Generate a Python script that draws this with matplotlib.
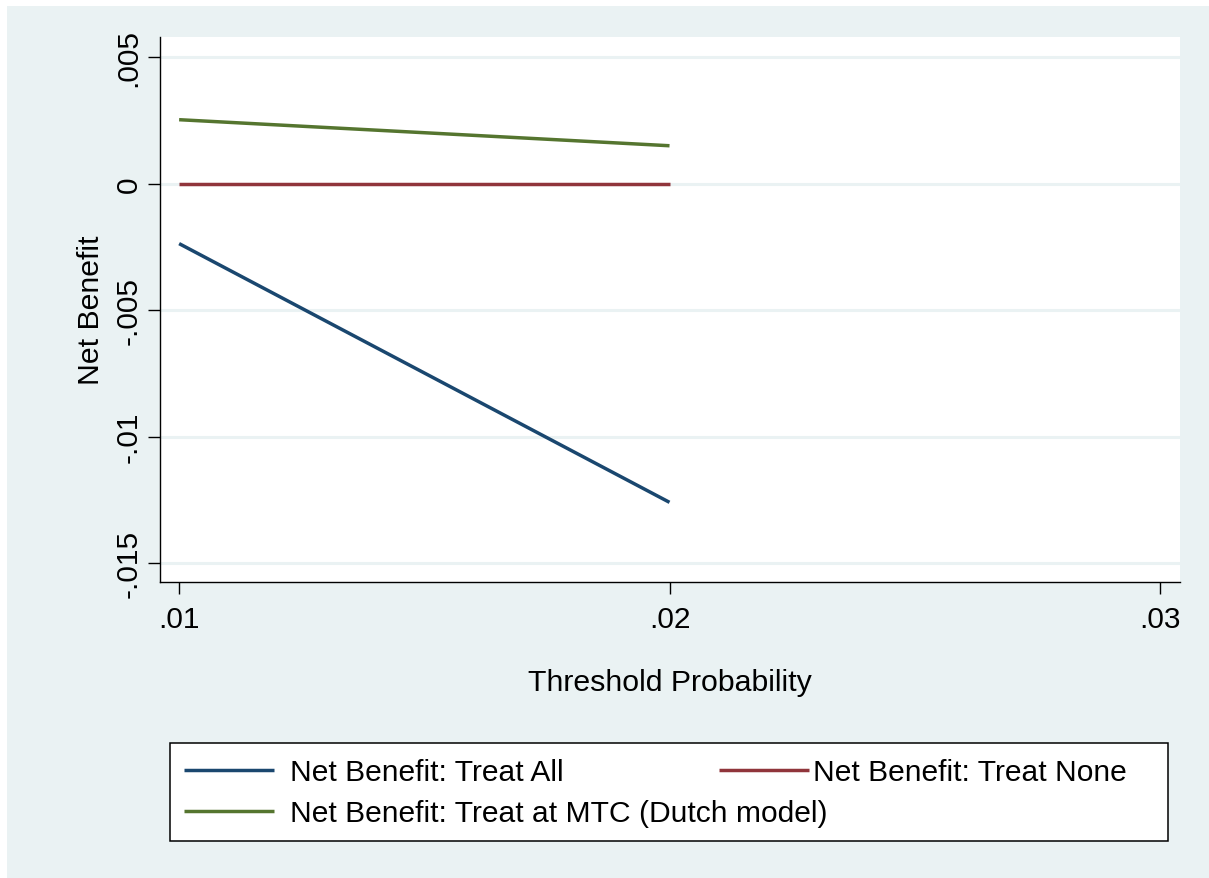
import matplotlib
matplotlib.use('Agg')
import matplotlib.pyplot as plt
from matplotlib.patches import Rectangle

plt.rcParams['font.family'] = ['Liberation Sans', 'DejaVu Sans']

# data
threshold = [0.01, 0.02]
nb_all = [-0.00237, -0.0126]
nb_none = [0.0, 0.0]
nb_mtc = [0.00253, 0.0015]

xticks = [0.01, 0.02, 0.03]
xlabels = ['.01', '.02', '.03']
yticks = [-0.015, -0.01, -0.005, 0.0, 0.005]
ylabels = ['-.015', '-.01', '-.005', '0', '.005']

navy = '#1a476f'
maroon = '#90353b'
green = '#55752f'
bg = '#eaf2f3'

W, H = 1209, 879
fig = plt.figure(figsize=(W / 100, H / 100), dpi=100, facecolor='white')

# Stata-like outer background (small white margin top/left)
fig.patches.append(Rectangle((7 / W, 0), 1 - 7 / W, 1 - 7 / H,
                             transform=fig.transFigure, facecolor=bg,
                             edgecolor='none', zorder=-10))

ax = fig.add_axes([160 / W, 1 - 583 / H, (1180 - 160) / W, (583 - 38) / H])
ax.set_facecolor('white')

l_all, = ax.plot(threshold, nb_all, color=navy, lw=2.5, solid_capstyle='butt', zorder=3)
l_none, = ax.plot(threshold, nb_none, color=maroon, lw=2.5, solid_capstyle='butt', zorder=3)
l_mtc, = ax.plot(threshold, nb_mtc, color=green, lw=2.5, solid_capstyle='butt', zorder=3)

ax.set_xlim(0.00961, 0.03041)
ax.set_ylim(-0.01575, 0.0058)

ax.set_xticks(xticks)
ax.set_xticklabels(xlabels)
ax.set_yticks(yticks)
ax.set_yticklabels(ylabels, rotation=90, va='center')

ax.grid(axis='y', color=bg, lw=2.2, zorder=1)
ax.set_axisbelow(True)

for s in ['top', 'right']:
    ax.spines[s].set_visible(False)
for s in ['left', 'bottom']:
    ax.spines[s].set_linewidth(1.0)
    ax.spines[s].set_color('black')

ax.tick_params(axis='both', length=8.6, width=1.0, color='black', labelsize=21.5)
ax.tick_params(axis='x', pad=8)
ax.tick_params(axis='y', pad=4)

ax.set_xlabel('Threshold Probability', fontsize=21.8, labelpad=25)
ax.set_ylabel('Net Benefit', fontsize=21.8, labelpad=7)

# legend box
fig.patches.append(Rectangle((170 / W, 1 - 842 / H), (1168 - 170) / W, (842 - 744) / H,
                             transform=fig.transFigure, facecolor='white',
                             edgecolor='black', lw=1.1, zorder=5))

leg_a = fig.legend([l_all, l_mtc],
                   ['Net Benefit: Treat All', 'Net Benefit: Treat at MTC (Dutch model)'],
                   loc='upper left', bbox_to_anchor=(184 / W, 1 - 759 / H),
                   frameon=False, fontsize=21.6, handlelength=3.0,
                   handletextpad=0.53, borderpad=0, borderaxespad=0,
                   labelspacing=0.45)
leg_b = fig.legend([l_none], ['Net Benefit: Treat None'],
                   loc='upper left', bbox_to_anchor=(719 / W, 1 - 759 / H),
                   frameon=False, fontsize=21.6, handlelength=3.0,
                   handletextpad=0.15, borderpad=0, borderaxespad=0)
leg_a.set_zorder(6)
leg_b.set_zorder(6)

fig.savefig('out.png', dpi=100, facecolor=fig.get_facecolor())
